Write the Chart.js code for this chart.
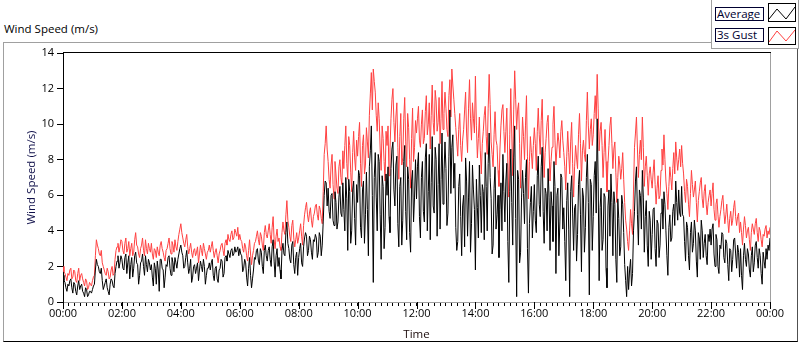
<!DOCTYPE html>
<html><head><meta charset="utf-8">
<script src="https://cdn.jsdelivr.net/npm/chart.js@4.4.1/dist/chart.umd.min.js"></script>
<style>
html,body{margin:0;padding:0;background:#fff;}
#wrap{position:relative;width:800px;height:342px;overflow:hidden;font-family:'Open Sans',sans-serif;}
#frame{position:absolute;left:3px;top:42px;width:793px;height:298px;border-left:1px solid #a0a0a0;border-top:1px solid #a0a0a0;border-right:1px solid #505050;border-bottom:1px solid #000;}
#title{position:absolute;left:4px;top:21px;font-size:11.5px;color:#000;white-space:nowrap;}
#legend{position:absolute;left:711px;top:-1px;width:86px;height:48px;background:#fff;border:1px solid #a0a0a0;z-index:3;}
.lbl{position:absolute;left:3px;width:46px;height:12px;border:1px solid #000030;font-size:11.5px;line-height:12px;color:#000030;padding-left:1px;box-sizing:content-box;white-space:nowrap;background:#fff;}
.sw{position:absolute;left:56px;width:26px;height:17px;border:1px solid #000;background:#fff;}
.sw svg{position:absolute;left:0;top:0;}
canvas{position:absolute;left:0;top:0;z-index:2;}
</style></head>
<body>
<div id="wrap">
  <div id="frame"></div>
  <div id="title">Wind Speed (m/s)</div>
  <div id="legend">
    <div class="lbl" style="top:7px;">Average</div>
    <div class="sw" style="top:3px;"><svg width="26" height="17"><polyline points="0,15 8,5 17,15 26,3" fill="none" stroke="#000" stroke-width="1"/></svg></div>
    <div class="lbl" style="top:28px;">3s Gust</div>
    <div class="sw" style="top:27px;height:16px;"><svg width="26" height="16"><polyline points="0,14 8,3 17,13 26,2" fill="none" stroke="#ff4040" stroke-width="1"/></svg></div>
  </div>
  <canvas id="c" width="800" height="342"></canvas>
</div>
<script>
// ---- data (2-minute samples, 00:00 to 24:00) ----
const SAMPLE_MINUTES = 2;
const xTickLabels = ['00:00','02:00','04:00','06:00','08:00','10:00','12:00','14:00','16:00','18:00','20:00','22:00','00:00'];
const yTickLabels = ['0','2','4','6','8','10','12','14'];

const gust3s = [
 2.0,1.7,1.6,1.4,1.2,1.6,1.5,1.8,1.9,1.3,1.4,1.8,1.7,1.2,1.1,1.6,1.9,1.2,1.5,1.6,1.3,1.1,0.9,1.3,1.2,0.7,0.8,1.1,1.0,0.9,
 1.2,1.4,1.5,2.6,3.5,3.2,3.0,2.7,2.6,2.9,2.2,2.0,1.8,1.6,1.5,1.9,1.7,1.3,1.4,1.8,2.0,1.5,1.6,2.4,2.9,3.1,3.3,2.8,3.1,3.5,
 3.4,2.9,2.7,3.3,3.6,2.8,3.0,3.4,2.6,3.0,3.3,2.6,2.8,3.5,3.9,3.2,3.1,2.7,2.5,3.0,3.2,3.6,2.9,2.6,3.5,3.0,2.7,3.3,3.0,2.8,
 3.3,2.7,2.4,3.0,2.9,2.5,3.1,2.8,2.6,3.2,3.4,3.0,2.8,2.5,2.3,2.9,3.0,3.3,3.6,3.0,2.7,3.4,3.2,2.8,3.5,3.1,2.9,3.4,3.8,4.1,
 4.4,3.9,3.6,3.3,3.1,3.5,3.8,3.1,2.7,3.0,3.3,2.8,2.5,2.9,3.0,2.6,2.8,3.1,2.2,2.7,3.2,2.9,2.6,3.3,3.0,2.7,2.4,2.8,2.9,3.2,
 2.8,3.1,3.4,2.9,2.5,2.8,3.0,2.6,2.2,2.7,2.9,3.2,3.3,2.9,2.6,3.3,3.5,3.2,3.8,3.5,3.4,3.8,4.0,3.5,3.6,4.1,3.9,3.7,4.2,3.5,
 3.8,3.5,3.4,3.0,2.8,3.3,3.1,2.6,2.3,2.9,3.5,2.7,2.1,2.6,2.9,3.3,3.4,3.7,4.0,3.5,3.2,3.9,3.7,3.2,2.9,3.9,4.3,3.8,3.6,4.0,
 4.4,3.8,3.3,4.2,4.8,3.5,3.0,3.7,4.1,3.4,3.6,3.1,2.9,3.9,4.5,4.0,3.8,4.9,5.7,4.6,4.2,3.7,3.4,4.3,4.6,3.6,3.1,3.5,3.9,3.3,
 3.6,4.0,4.4,3.7,3.2,4.3,4.9,5.3,5.6,4.9,4.5,5.0,5.3,4.6,4.2,4.8,5.0,5.4,5.5,4.9,4.6,5.4,5.2,4.7,4.4,6.2,8.3,8.9,9.9,8.6,
 7.9,6.9,6.4,7.7,8.3,6.6,5.8,7.9,7.2,6.4,6.1,7.6,8.0,7.0,6.6,8.5,7.5,8.8,9.9,7.8,6.9,9.3,8.8,7.3,6.2,8.4,9.6,8.1,7.4,9.1,
 8.2,9.3,10.1,7.8,6.5,8.8,9.4,7.2,7.7,9.8,9.0,8.1,10.5,11.7,12.9,10.8,13.1,12.4,11.8,10.5,9.6,11.2,10.3,8.6,7.4,9.9,9.2,7.9,6.8,9.6,
 8.8,9.9,7.1,8.6,10.3,11.4,12.0,10.1,9.0,10.4,11.2,8.7,6.9,9.3,10.6,7.7,8.1,10.3,11.5,9.0,7.6,10.6,9.8,8.0,6.4,9.2,10.9,7.9,8.7,10.2,
 9.5,10.3,11.0,9.1,8.7,10.0,10.8,8.9,9.2,10.7,11.6,9.4,10.0,11.2,8.6,10.5,12.2,10.1,9.4,11.9,11.3,9.6,10.1,11.5,8.9,10.3,12.4,9.7,10.6,11.8,
 10.9,9.7,9.3,11.6,12.5,10.4,13.1,12.2,11.4,10.6,9.8,9.0,8.2,9.7,10.6,8.8,7.9,9.1,9.7,10.8,11.8,9.5,8.4,10.9,12.5,10.3,9.1,11.2,10.3,9.5,
 12.7,9.9,8.1,9.2,10.4,8.5,7.2,8.9,9.6,10.5,11.0,9.3,8.3,10.9,12.8,11.1,9.0,8.3,7.6,9.4,10.7,9.1,8.8,7.4,6.5,8.6,9.9,10.8,11.1,9.6,
 8.4,9.6,10.9,7.8,5.9,9.4,12.0,9.5,7.1,10.8,13.0,11.4,9.7,10.8,11.2,8.9,6.4,8.6,10.4,9.3,8.0,9.9,11.6,8.2,5.8,7.9,9.3,8.4,7.5,8.8,
 9.8,8.9,7.4,9.6,10.9,9.4,8.3,10.2,11.4,8.8,7.0,8.4,9.2,10.1,10.5,8.6,6.8,7.9,8.7,10.0,11.0,9.1,7.7,8.6,9.5,9.0,8.1,9.6,10.2,9.1,
 8.4,7.6,6.3,8.2,9.6,8.4,7.2,9.0,10.1,7.8,5.9,7.6,8.8,8.1,7.5,9.4,10.6,8.9,6.8,8.5,9.1,8.3,7.9,10.2,11.8,9.9,8.6,9.7,10.3,8.8,
 9.4,10.6,11.6,10.3,12.8,10.9,8.5,9.6,10.1,8.8,7.0,8.4,9.7,7.9,6.2,7.8,8.8,9.9,10.4,8.9,7.5,8.6,9.0,7.3,5.6,7.0,8.2,7.7,6.9,7.5,
 8.4,6.9,5.6,4.6,4.1,3.4,2.9,4.0,5.2,4.4,3.8,6.3,8.7,9.5,10.4,8.6,7.0,8.3,9.1,8.0,10.4,8.7,6.5,7.6,8.2,7.1,6.0,7.2,7.6,6.9,
 6.4,7.3,8.0,6.6,5.5,6.4,7.1,5.8,6.0,7.4,8.6,7.7,9.4,8.0,6.8,6.1,5.2,6.5,7.6,7.0,6.3,7.5,8.4,7.2,9.0,8.1,7.4,8.0,8.6,7.6,
 8.8,7.8,7.2,6.2,5.6,6.9,6.5,5.5,4.8,6.1,7.4,6.6,5.9,6.3,6.8,5.6,4.5,5.7,6.2,6.7,7.0,5.8,5.3,6.2,6.6,5.5,4.9,5.6,6.0,6.3,
 5.4,6.1,6.7,5.2,4.6,5.5,5.8,4.9,4.2,4.8,5.2,5.7,6.0,5.1,4.4,4.9,5.5,4.6,3.9,4.7,5.1,4.3,4.6,5.3,5.7,4.8,4.3,4.8,5.0,3.9,
 4.5,3.9,3.2,4.1,4.8,4.3,3.6,4.0,4.2,3.5,2.9,3.9,4.4,4.1,3.8,4.4,4.7,3.9,3.4,4.2,4.0,3.5,3.1,3.8,3.7,4.1,4.3,3.6,4.0,3.8,
 4.2
];

const average = [
 1.5,1.2,1.1,0.8,0.6,1.0,0.9,1.2,1.3,0.8,0.5,1.1,1.0,0.6,0.4,0.9,1.2,0.7,0.9,1.0,0.6,0.5,0.3,0.8,0.7,0.3,0.4,0.6,0.6,0.5,
 0.7,0.9,1.0,1.8,2.4,2.1,2.0,1.7,1.6,1.9,1.2,0.7,0.9,1.1,1.3,0.8,0.6,0.4,1.0,1.3,1.2,0.9,0.8,1.6,2.0,2.3,2.6,1.9,2.2,2.6,
 2.4,1.9,1.8,2.5,2.7,1.6,2.2,2.6,1.3,2.1,2.5,1.4,1.9,2.6,2.8,2.2,2.1,1.0,1.5,2.2,2.3,2.7,2.0,1.5,2.6,2.1,1.7,2.4,2.2,1.8,
 2.1,1.4,0.9,2.2,1.9,1.0,2.3,1.8,0.6,2.4,2.4,1.9,1.8,0.8,1.4,2.1,2.0,2.5,2.6,1.9,1.5,2.5,2.2,1.7,2.5,2.2,1.9,2.4,2.7,3.0,
 3.2,2.8,2.6,1.9,2.0,2.5,2.9,2.2,1.6,1.9,2.4,1.1,1.4,2.0,2.1,1.6,1.9,2.2,1.2,1.8,2.3,2.0,1.7,2.4,2.0,1.0,1.5,1.9,1.9,2.2,
 1.8,2.2,2.4,1.5,1.2,1.9,2.0,1.3,1.1,1.8,1.9,2.4,2.3,1.4,1.6,2.5,2.6,2.3,2.9,2.7,2.5,2.9,3.0,2.6,2.7,3.1,2.8,2.9,3.1,2.6,
 3.0,2.7,2.6,1.7,1.9,2.4,2.2,1.4,0.9,1.9,2.5,1.5,0.8,1.3,1.8,2.5,2.4,2.9,3.0,2.3,2.1,3.0,2.8,2.0,1.6,2.9,3.2,2.6,2.3,2.9,
 3.1,2.4,2.0,3.1,3.5,2.3,1.4,2.6,3.0,2.0,2.5,1.8,1.3,2.9,3.3,2.7,2.6,3.9,4.5,3.3,3.0,2.4,2.2,3.2,3.4,2.1,1.6,2.5,2.8,1.5,
 2.5,3.0,3.3,2.2,2.0,3.1,3.6,3.9,3.7,2.6,2.9,3.7,3.5,2.8,2.4,3.5,3.4,3.8,3.6,2.5,2.8,3.9,3.7,2.6,3.2,4.5,6.0,6.8,6.7,5.4,
 6.4,5.1,4.7,6.0,6.1,4.6,4.3,6.2,5.6,4.1,4.5,5.9,6.5,5.0,4.8,6.7,5.2,4.0,7.0,5.8,2.9,6.9,6.2,3.3,4.0,6.3,6.8,4.7,3.2,6.6,
 5.6,7.4,7.1,4.2,3.6,6.3,6.8,3.3,4.9,7.3,5.2,2.6,7.6,8.5,9.9,6.0,1.1,7.0,8.4,5.9,4.0,8.3,7.9,4.9,2.4,7.1,6.5,3.0,4.2,7.2,
 6.0,7.6,4.8,3.9,7.5,8.6,9.0,6.3,5.4,7.7,8.2,4.4,3.1,6.5,7.0,3.2,4.6,7.9,8.8,5.1,3.5,7.6,6.9,3.9,2.8,6.8,7.4,4.5,5.9,8.0,
 5.8,7.6,8.4,4.8,3.6,7.0,7.9,5.1,4.5,8.1,8.9,4.0,6.2,8.3,3.5,6.7,9.3,5.4,5.0,8.7,8.0,3.7,6.6,8.9,4.1,6.9,9.5,5.5,7.2,9.0,
 7.5,4.3,5.0,8.2,10.8,6.1,8.7,9.4,6.4,7.8,4.2,2.9,3.4,6.5,7.2,4.8,2.6,5.4,6.0,3.1,8.1,6.8,3.7,5.9,7.9,2.8,4.4,7.7,6.3,5.2,
 1.8,6.9,5.3,3.6,7.7,6.0,3.9,6.6,6.2,3.5,8.4,6.5,4.0,7.8,9.5,7.0,5.8,2.7,3.2,6.4,7.6,4.1,4.9,6.0,2.5,5.2,6.7,4.0,8.3,6.2,
 4.5,6.8,7.8,3.4,1.1,6.2,8.6,5.6,3.2,8.1,9.9,4.7,0.3,7.4,6.9,2.2,2.8,5.9,7.4,6.1,4.4,7.0,8.0,3.0,0.5,4.4,5.6,6.5,3.6,5.1,
 6.6,4.6,3.9,7.1,8.2,5.5,4.8,7.6,8.7,5.1,3.3,6.4,6.1,4.0,7.5,5.9,2.9,6.2,5.4,3.4,7.9,6.5,1.6,6.0,6.4,2.6,4.5,7.2,7.0,4.1,
 5.3,3.4,1.2,5.7,6.7,4.1,0.3,6.2,7.1,5.0,2.9,5.3,5.5,2.3,3.8,6.6,7.4,4.9,1.7,6.4,5.9,2.8,4.2,7.0,8.3,5.6,0.4,6.9,6.6,2.9,
 4.8,7.1,7.9,5.0,10.3,6.8,1.2,5.3,6.4,2.9,3.5,6.1,5.9,1.9,0.8,5.4,6.3,3.7,7.2,5.6,2.6,6.2,5.5,2.4,1.1,5.8,4.7,2.6,3.1,6.0,
 5.5,3.9,2.1,1.2,0.3,2.0,0.7,1.8,2.4,0.9,1.6,4.0,5.1,6.8,7.6,4.9,3.2,6.3,6.0,4.1,7.4,5.9,2.8,4.8,5.7,3.2,2.0,5.1,4.6,2.4,
 3.8,5.2,5.3,3.0,2.0,4.6,4.4,2.5,3.2,5.0,5.8,4.1,6.2,5.5,4.0,2.6,1.5,4.2,4.9,3.4,3.6,5.1,5.5,4.3,6.8,5.6,4.6,6.3,5.0,4.8,
 6.5,4.9,4.8,3.4,2.3,4.5,4.2,2.6,1.8,3.9,4.5,2.8,3.3,4.6,4.0,2.3,1.4,3.9,3.6,2.4,4.6,4.0,2.5,3.3,3.8,2.6,2.1,3.8,3.4,4.1,
 3.2,4.1,4.4,2.7,2.0,3.8,3.5,2.0,1.6,3.2,3.0,3.9,3.8,2.5,2.2,3.5,3.3,2.1,1.2,3.0,2.9,1.7,2.4,3.5,3.6,2.7,1.9,3.2,2.8,1.4,
 3.0,1.5,0.7,2.6,3.3,2.4,2.0,3.0,2.7,1.8,1.4,2.6,3.1,1.7,2.2,3.2,3.4,2.5,1.9,3.0,2.6,1.6,1.0,2.8,2.3,1.9,3.0,2.4,3.2,2.9,
 3.6
];

const toPoints = arr => arr.map((v, i) => ({x: i * SAMPLE_MINUTES, y: v}));

Chart.defaults.font.family = "'Open Sans', sans-serif";
Chart.defaults.font.size = 11;
Chart.defaults.color = '#000';

const framePlugin = {
  id: 'framePlugin',
  afterDraw(chart) {
    const {ctx, chartArea: a, scales: {x}} = chart;
    ctx.save();
    ctx.lineWidth = 1;
    ctx.strokeStyle = '#000';
    ctx.beginPath(); ctx.moveTo(a.left, Math.round(a.top) - 0.5); ctx.lineTo(a.right + 1, Math.round(a.top) - 0.5); ctx.stroke();
    ctx.strokeStyle = '#a0a0a0';
    ctx.beginPath(); ctx.moveTo(Math.round(a.right) + 0.5, a.top); ctx.lineTo(Math.round(a.right) + 0.5, a.bottom); ctx.stroke();
    ctx.strokeStyle = '#000';
    x.ticks.forEach(t => {
      if (t.value % 120 === 0) {
        const px = Math.round(x.getPixelForValue(t.value)) + 0.5;
        ctx.beginPath(); ctx.moveTo(px, a.bottom); ctx.lineTo(px, a.bottom + 7); ctx.stroke();
      }
    });
    ctx.restore();
  }
};

new Chart(document.getElementById('c'), {
  type: 'line',
  data: {
    datasets: [
      {label: 'Average', data: toPoints(average), borderColor: '#000000', borderWidth: 1, pointRadius: 0, tension: 0, fill: false},
      {label: '3s Gust', data: toPoints(gust3s), borderColor: '#ff4040', borderWidth: 1, pointRadius: 0, tension: 0, fill: false}
    ]
  },
  options: {
    responsive: false,
    animation: false,
    devicePixelRatio: 1,
    events: [],
    layout: {padding: {left: 0, right: 30, top: 53, bottom: 0}},
    plugins: {legend: {display: false}, tooltip: {enabled: false}, title: {display: false}},
    scales: {
      x: {
        type: 'linear', min: 0, max: 1440, offset: false,
        afterFit(s) { s.height = 40; },
        grid: {drawOnChartArea: false, drawTicks: true, tickLength: 4, tickColor: '#000'},
        border: {display: true, color: '#a0a0a0', width: 1},
        ticks: {
          stepSize: 12, autoSkip: false, maxRotation: 0, minRotation: 0, padding: 1,
          color: '#000', font: {size: 11},
          callback: v => (v % 120 === 0 ? xTickLabels[v / 120] : '')
        },
        title: {display: true, text: 'Time', color: '#1a0a0a', font: {size: 11.5}, padding: {top: 0, bottom: 0}}
      },
      y: {
        min: 0, max: 14,
        afterFit(s) { s.width = 63; },
        grid: {drawOnChartArea: false, drawTicks: true, tickLength: 6, tickColor: '#000'},
        border: {display: true, color: '#000', width: 1},
        ticks: {stepSize: 2, padding: 3, color: '#000', font: {size: 11},
          callback: v => yTickLabels[v / 2]},
        title: {display: true, text: 'Wind Speed (m/s)', color: '#10104a', font: {size: 11.5}, padding: {top: 25, bottom: 0}}
      }
    }
  },
  plugins: [framePlugin]
});
</script>
</body></html>
